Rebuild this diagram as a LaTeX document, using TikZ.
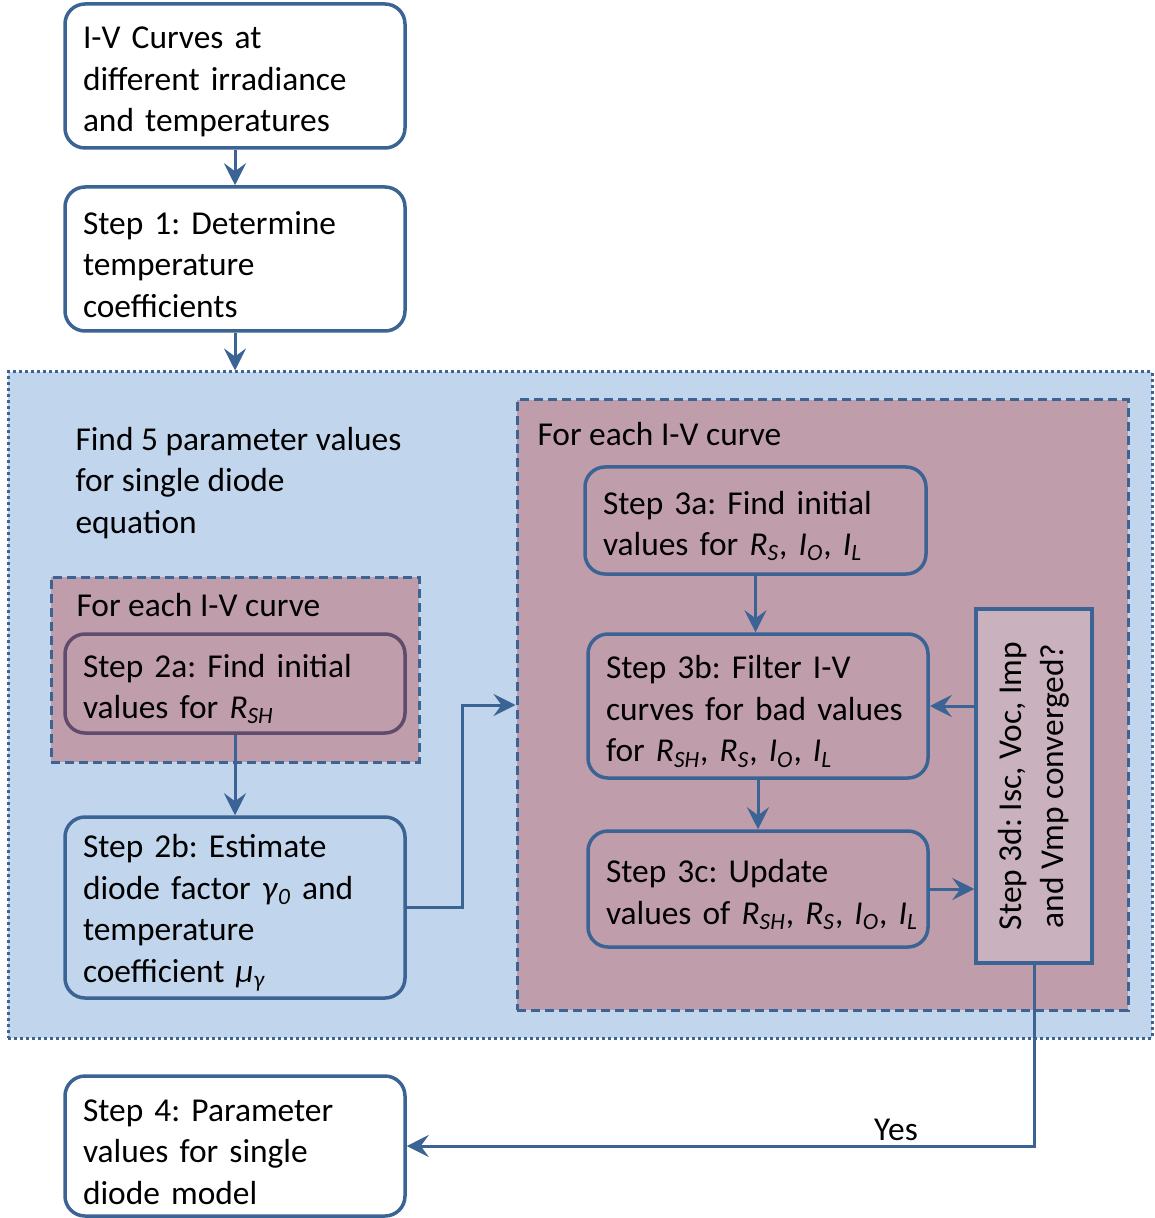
\documentclass[tikz,border=0pt]{standalone}
\usepackage{fontspec}
\setmainfont{Carlito}
\usetikzlibrary{arrows.meta}
\definecolor{FlowBlue}{RGB}{59,100,148}
\definecolor{PanelBlue}{RGB}{193,213,236}
\definecolor{LoopMauve}{RGB}{192,157,171}
\definecolor{CheckMauve}{RGB}{201,177,189}
\definecolor{StepPurple}{RGB}{95,75,108}
\newcommand{\param}[2]{\textit{#1}\textsubscript{\textit{#2}}}
\frenchspacing

\begin{document}
\begin{tikzpicture}[x=0.5pt, y=-0.5pt, -{Stealth[length=11pt,width=11pt,inset=4pt]}, color=FlowBlue, line width=1.5pt,
      every node/.append style={font=\fontsize{16.7}{20.8}\selectfont, text=black},
      stepbox/.style={draw=FlowBlue, rounded corners=10pt, line width=1.75pt, align=left,
        inner xsep=9pt, inner ysep=0pt, text width=152pt, execute at begin node=\rule{0pt}{17pt}},
      region/.style={-, draw=FlowBlue, line width=1.5pt, inner sep=0pt}]
    \useasboundingbox (0,0) rectangle (1154,1218);
    % shaded regions
    \node (panel) [region, fill=PanelBlue, dash pattern=on 1.5pt off 1.5pt,
      minimum width=572pt, minimum height=333pt] at (580,705) {};
    \node (loopB) [region, fill=LoopMauve, dash pattern=on 4.5pt off 2.5pt,
      minimum width=184pt, minimum height=92.5pt] at (235,669.5) {};
    \node (loopC) [region, fill=LoopMauve, dash pattern=on 4.5pt off 2.5pt,
      minimum width=305.5pt, minimum height=305pt] at (822.5,705) {};
    \node (findtxt) [anchor=west, align=left, inner sep=0pt] at (74,483) {Find 5 parameter values\\for single diode\\equation};
    \node (eachB) [anchor=west, inner sep=0pt] at (75,605) {For each I-V curve};
    \node (eachC) [anchor=west, inner sep=0pt] at (536,434) {For each I-V curve};
    % steps
    \node (curves) [stepbox, fill=white, minimum height=72pt] at (235,76)
      {I-V Curves at\\different irradiance\\and temperatures};
    \node (step1) [stepbox, fill=white, minimum height=72pt] at (235,259)
      {Step 1: Determine\\temperature\\coefficients};
    \node (step2a) [stepbox, draw=StepPurple, minimum height=49.5pt] at (235,683.5)
      {Step 2a: Find initial\\values for \param{R}{SH}};
    \node (step2b) [stepbox, fill=PanelBlue, minimum height=90.5pt] at (235,907.5)
      {Step 2b: Estimate\\diode factor \param{γ}{0} and\\temperature\\coefficient \param{μ}{γ}};
    \node (step3a) [stepbox, fill=LoopMauve, text width=152.5pt, minimum height=53.5pt] at (755.5,520.5)
      {Step 3a: Find initial\\values for \param{R}{S}, \param{I}{O}, \param{I}{L}};
    \node (step3b) [stepbox, fill=LoopMauve, minimum height=72pt] at (758,706)
      {Step 3b: Filter I-V\\curves for bad values\\for \param{R}{SH}, \param{R}{S}, \param{I}{O}, \param{I}{L}};
    \node (step3c) [stepbox, fill=LoopMauve, minimum height=58pt] at (758,889)
      {Step 3c: Update\\\mbox{values of \param{R}{SH}, \param{R}{S}, \param{I}{O}, \param{I}{L}}};
    \node (step3d) [draw=FlowBlue, line width=1.75pt, fill=CheckMauve, inner sep=0pt,
      minimum width=58pt, minimum height=177pt] at (1034,786)
      {\rotatebox{90}{\begin{tabular}{@{}c@{}}Step 3d: Isc, Voc, Imp\\[0.5pt]and Vmp converged?\end{tabular}}};
    \node (step4) [stepbox, fill=white, minimum height=70pt] at (235,1146)
      {Step 4: Parameter\\values for single\\diode model};
    % connectors
    \draw (curves) -- (step1);
    \draw (step1.south) -- (step1.south |- panel.north);
    \draw (step2a) -- (step2b);
    \draw (step2b.east) -- ++(56,0) |- (loopC.west);
    \draw (step3a.south) -- (step3a.south |- step3b.north);
    \draw (step3b) -- (step3c);
    \draw (step3d.west |- step3b.east) -- (step3b.east);
    \draw (step3c.east) -- (step3c.east -| step3d.west);
    \draw (step3d.south) |- (step4.east) node[pos=0.61, above, inner sep=2pt] {Yes};
\end{tikzpicture}
\end{document}
